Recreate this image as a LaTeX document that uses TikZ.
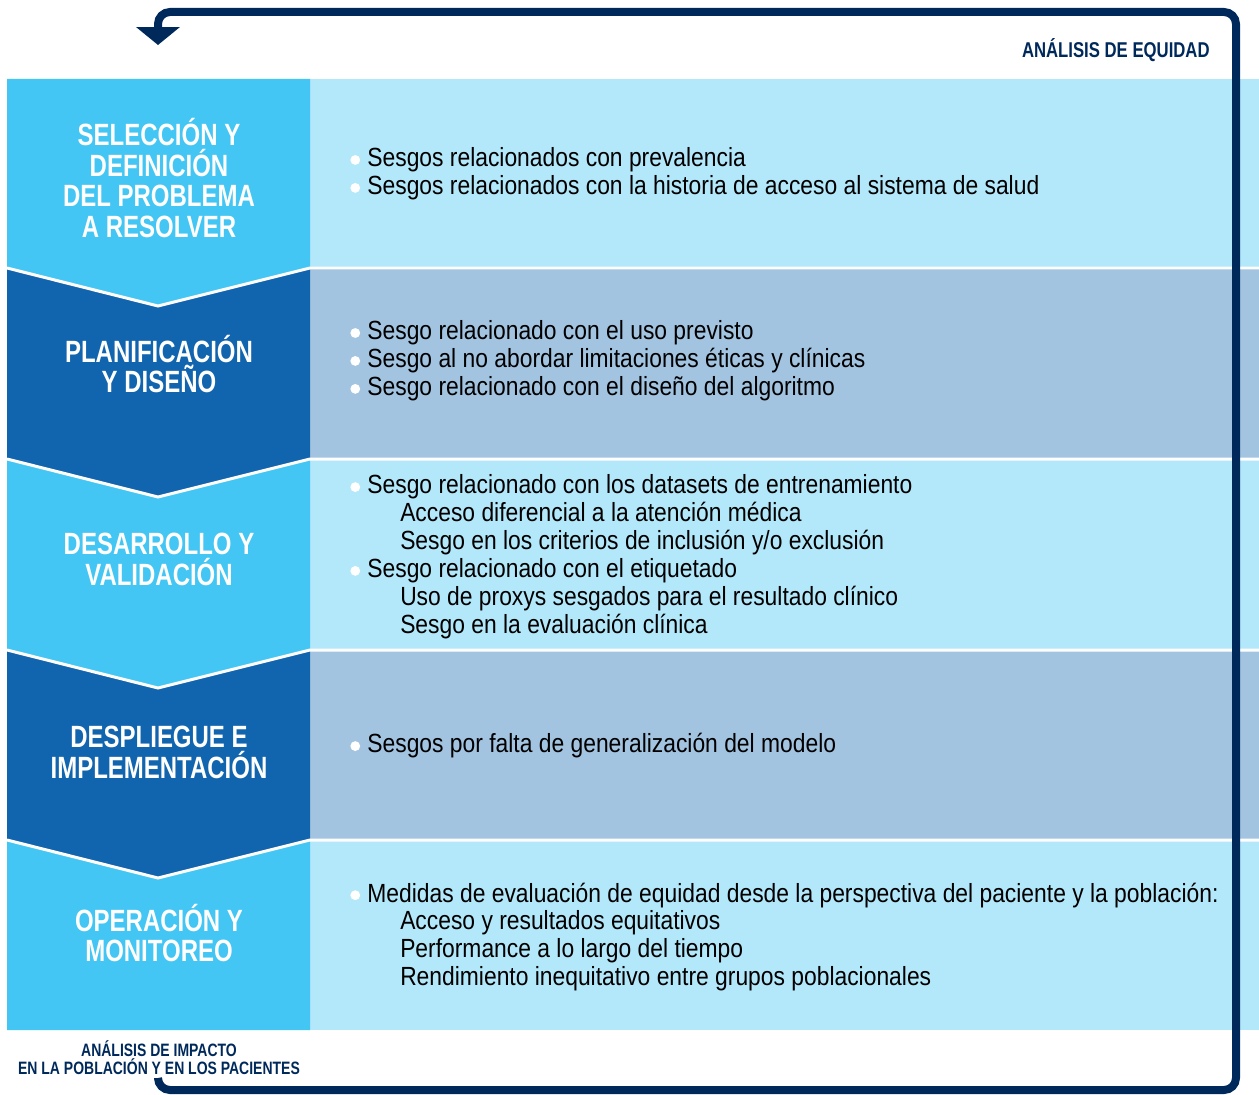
\documentclass[tikz,border=0pt]{standalone}
\usepackage{fontspec}
\setmainfont{Liberation Sans}[FakeStretch=0.87]
\newfontfamily\headfont{Liberation Sans}[FakeStretch=0.78]
\usetikzlibrary{
  arrows.meta,
}
\definecolor{stagelight}{HTML}{43C6F3}
\definecolor{stagedark}{HTML}{1164AE}
\definecolor{rowlight}{HTML}{B3E7FA}
\definecolor{rowdark}{HTML}{A2C4E1}
\definecolor{navy}{HTML}{00295B}
\newcommand{\bitem}[1]{\makebox[9.7pt][l]{\tikz[baseline=-3.9pt]\fill[white] (0,0) circle (2.8pt);}#1}
\newcommand{\sitem}[1]{\hspace*{28.4pt}#1}
\tikzset{
  stage/.style={
    text=white,
    align=center,
    inner sep=0pt,
    font=\headfont\bfseries\fontsize{17.5}{17.6}\selectfont
  },
  items/.style={
    text=black,
    align=left,
    anchor=west,
    inner sep=0pt,
    font=\fontsize{14.95}{15.9}\selectfont
  },
  caption/.style={
    text=navy,
    inner sep=0pt,
    font=\headfont\bfseries\fontsize{12.2}{13}\selectfont
  },
  divider/.style={
    white,
    line width=0.06cm,
  },
  feedback/.style={
    navy,
    line width=0.16cm,
    rounded corners=0.24cm,
    -{Triangle[width=0.86cm, length=0.36cm]},
  },
}

\begin{document}
\begin{tikzpicture}[x=0.02cm, y=-0.02cm]
  \useasboundingbox (0,0) rectangle (1259,1095);

  % Right rows
  \fill[rowlight] (310,79) rectangle (1259,268);
  \fill[rowdark] (310,268) rectangle (1259,459);
  \fill[rowlight] (310,459) rectangle (1259,650);
  \fill[rowdark] (310,650) rectangle (1259,840);
  \fill[rowlight] (310,840) rectangle (1259,1030);

  % Stage blocks
  \fill[stagelight] (7,79) -- (310,79) -- (310,268) -- (158,306) -- (7,268) -- cycle;
  \fill[stagedark] (7,268) -- (158,306) -- (310,268) -- (310,459) -- (158,497) -- (7,459) -- cycle;
  \fill[stagelight] (7,459) -- (158,497) -- (310,459) -- (310,650) -- (158,688) -- (7,650) -- cycle;
  \fill[stagedark] (7,650) -- (158,688) -- (310,650) -- (310,840) -- (158,878) -- (7,840) -- cycle;
  \fill[stagelight] (7,840) -- (158,878) -- (310,840) -- (310,1030) -- (7,1030) -- cycle;

  % Dividers
  \draw[divider] (7,268) -- (158,306) -- (310,268) -- (1259,268);
  \draw[divider] (7,459) -- (158,497) -- (310,459) -- (1259,459);
  \draw[divider] (7,650) -- (158,688) -- (310,650) -- (1259,650);
  \draw[divider] (7,840) -- (158,878) -- (310,840) -- (1259,840);

  % Stage titles
  \node (seleccion) [stage] at (159,178) {SELECCIÓN Y\\DEFINICIÓN\\DEL PROBLEMA\\A RESOLVER};
  \node (planificacion) [stage] at (159,364) {PLANIFICACIÓN\\Y DISEÑO};
  \node (desarrollo) [stage] at (159,559) {DESARROLLO Y\\VALIDACIÓN};
  \node (despliegue) [stage] at (159,752) {DESPLIEGUE E\\IMPLEMENTACIÓN};
  \node (operacion) [stage] at (159,933) {OPERACIÓN Y\\MONITOREO};

  % Bias lists
  \node (seleccion_list) [items] at (350,174) {%
    \bitem{Sesgos relacionados con prevalencia}\\
    \bitem{Sesgos relacionados con la historia de acceso al sistema de salud}};
  \node (planificacion_list) [items] at (350,361) {%
    \bitem{Sesgo relacionado con el uso previsto}\\
    \bitem{Sesgo al no abordar limitaciones éticas y clínicas}\\
    \bitem{Sesgo relacionado con el diseño del algoritmo}};
  \node (desarrollo_list) [items] at (350,557) {%
    \bitem{Sesgo relacionado con los datasets de entrenamiento}\\
    \sitem{Acceso diferencial a la atención médica}\\
    \sitem{Sesgo en los criterios de inclusión y/o exclusión}\\
    \bitem{Sesgo relacionado con el etiquetado}\\
    \sitem{Uso de proxys sesgados para el resultado clínico}\\
    \sitem{Sesgo en la evaluación clínica}};
  \node (despliegue_list) [items] at (350,746) {%
    \bitem{Sesgos por falta de generalización del modelo}};
  \node (operacion_list) [items] at (350,937) {%
    \bitem{Medidas de evaluación de equidad desde la perspectiva del paciente y la población:}\\
    \sitem{Acceso y resultados equitativos}\\
    \sitem{Performance a lo largo del tiempo}\\
    \sitem{Rendimiento inequitativo entre grupos poblacionales}};

  % Captions
  \node (equidad) [caption, anchor=base east] at (1210,58) {ANÁLISIS DE EQUIDAD};
  \node (impacto) [caption, align=center, font=\headfont\bfseries\fontsize{10.2}{10.3}\selectfont]
    at (159,1058) {ANÁLISIS DE IMPACTO\\EN LA POBLACIÓN Y EN LOS PACIENTES};

  % Feedback loop
  \coordinate (loop_start) at (158,1078);
  \coordinate (bottom_right) at (1236,1090);
  \coordinate (top_right) at (1236,12);
  \coordinate (loop_end) at (158,45);
  \draw [feedback] (loop_start) |- (bottom_right) -- (top_right) -| (loop_end);

\end{tikzpicture}
\end{document}
